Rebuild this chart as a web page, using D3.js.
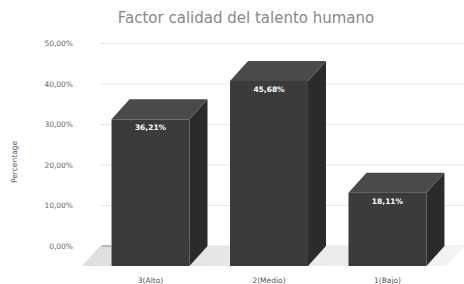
<!DOCTYPE html>
<html>
<head>
<meta charset="utf-8">
<script src="https://cdn.jsdelivr.net/npm/d3@7"></script>
<style>
  body { margin: 0; background: #fff; }
  text { font-family: "DejaVu Sans", sans-serif; }
</style>
</head>
<body>
<div id="chart"></div>
<script>
// values
const categories = ["3(Alto)", "2(Medio)", "1(Bajo)"];
const percentages = [36.21, 45.68, 18.11];
const yTicks = [0, 10, 20, 30, 40, 50];

const width = 464, height = 284;
const depthX = 18, depthY = 20; // oblique offset of the front face

const svg = d3.select("#chart").append("svg")
    .attr("width", width)
    .attr("height", height);

// scales describe the back wall
const x = d3.scaleBand()
    .domain(categories)
    .range([110, 464])
    .paddingInner(0.342)
    .paddingOuter(0.165);

const y = d3.scaleLinear()
    .domain([0, 50])
    .range([246, 43.5]);

const fmt = v => d3.format(".2f")(v).replace(".", ",") + "%";

// floor gradient
const defs = svg.append("defs");
const grad = defs.append("linearGradient")
    .attr("id", "floorGrad")
    .attr("x1", "0").attr("x2", "1").attr("y1", "0").attr("y2", "0");
grad.append("stop").attr("offset", "0%").attr("stop-color", "#dedede");
grad.append("stop").attr("offset", "100%").attr("stop-color", "#f4f4f4");

// gridlines on the back wall
const y0 = y(0);
svg.append("g")
    .selectAll("line")
    .data(yTicks)
    .join("line")
    .attr("x1", 100)
    .attr("x2", width)
    .attr("y1", d => y(d))
    .attr("y2", d => y(d))
    .attr("stroke", "#e6e6e6")
    .attr("stroke-width", 1);

// floor
svg.append("polygon")
    .attr("points", [
        [100, y0], [width, y0],
        [width - depthX, y0 + depthY], [100 - depthX, y0 + depthY]
    ].join(" "))
    .attr("fill", "url(#floorGrad)");

// zero tick
svg.append("line")
    .attr("x1", 102).attr("x2", 111)
    .attr("y1", y0).attr("y2", y0)
    .attr("stroke", "#888");

// y tick labels
svg.append("g")
    .selectAll("text")
    .data(yTicks)
    .join("text")
    .attr("x", 73)
    .attr("y", d => y(d) + 2.5)
    .attr("text-anchor", "end")
    .attr("font-size", 7.5)
    .attr("fill", "#666")
    .text(d => fmt(d));

// y axis title
svg.append("text")
    .attr("transform", `translate(17, 162) rotate(-90)`)
    .attr("text-anchor", "middle")
    .attr("font-size", 7.5)
    .attr("fill", "#555")
    .text("Percentage");

// bars
const bars = svg.append("g")
    .selectAll("g")
    .data(categories.map((c, i) => ({cat: c, val: percentages[i]})))
    .join("g");

bars.each(function (d) {
    const g = d3.select(this);
    const bx = x(d.cat), bw = x.bandwidth();
    const yb = y(d.val);
    const fx = bx - depthX, ft = yb + depthY, fb = y0 + depthY;

    // right side
    g.append("polygon")
        .attr("points", [[fx + bw, ft], [bx + bw, yb], [bx + bw, y0], [fx + bw, fb]].join(" "))
        .attr("fill", "#2b2b2b");
    // top
    g.append("polygon")
        .attr("points", [[fx, ft], [fx + bw, ft], [bx + bw, yb], [bx, yb]].join(" "))
        .attr("fill", "#4a4a4a");
    // front
    g.append("rect")
        .attr("x", fx)
        .attr("y", ft)
        .attr("width", bw)
        .attr("height", fb - ft)
        .attr("fill", "#3b3b3b");

    g.append("text")
        .attr("x", fx + bw / 2)
        .attr("y", ft + 11)
        .attr("text-anchor", "middle")
        .attr("font-size", 7.5)
        .attr("font-weight", "bold")
        .attr("fill", "#fff")
        .text(fmt(d.val));

    g.append("text")
        .attr("x", fx + bw / 2)
        .attr("y", 283)
        .attr("text-anchor", "middle")
        .attr("font-size", 7.5)
        .attr("fill", "#555")
        .text(d.cat);
});

// title
svg.append("text")
    .attr("x", 246)
    .attr("y", 23)
    .attr("text-anchor", "middle")
    .attr("font-family", "Liberation Sans, Arial, sans-serif")
    .attr("font-size", 15)
    .attr("fill", "#888")
    .text("Factor calidad del talento humano");
</script>
</body>
</html>
